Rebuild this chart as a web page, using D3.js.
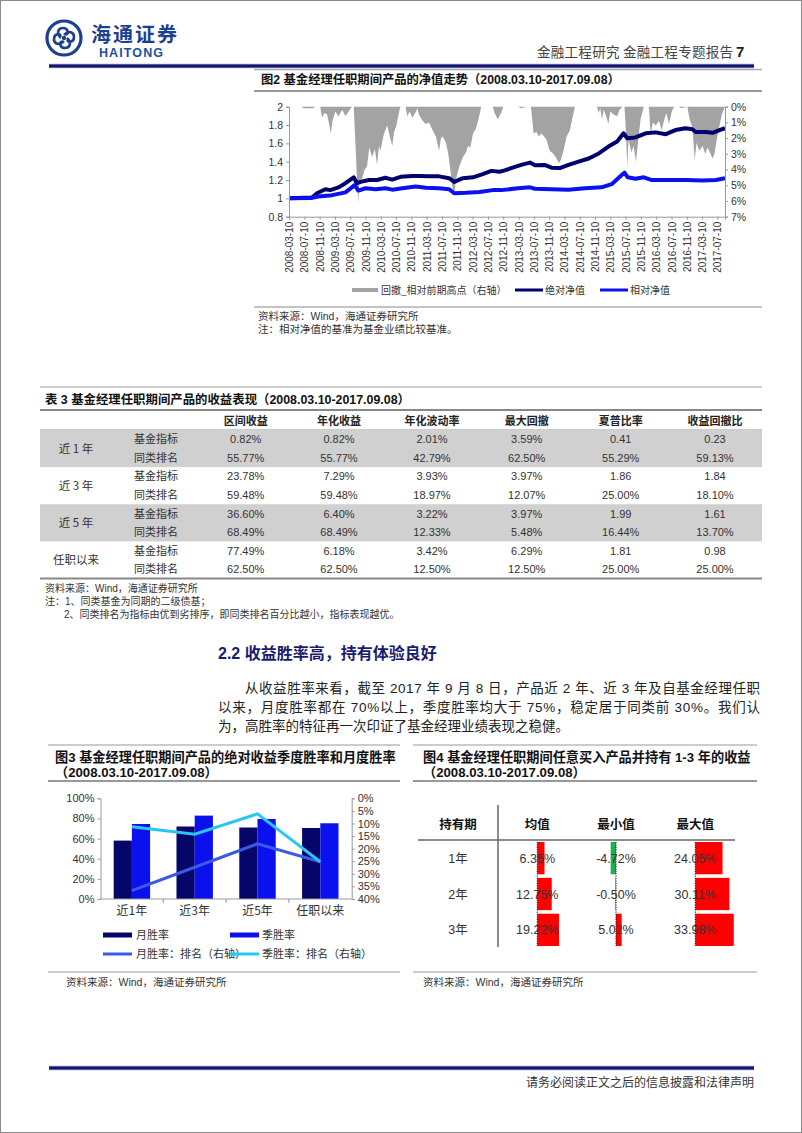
<!DOCTYPE html>
<html><head><meta charset="utf-8">
<script src="https://cdn.jsdelivr.net/npm/d3@7"></script>
<style>body{margin:0;background:#fff} svg{display:block}</style>
</head><body>
<svg id="page" width="802" height="1133"></svg>
<script>
// ---------------- DATA ----------------
const fig2TickLabels = ["2008-03-10","2008-07-10","2008-11-10","2009-03-10","2009-07-10","2009-11-10","2010-03-10","2010-07-10","2010-11-10","2011-03-10","2011-07-10","2011-11-10","2012-03-10","2012-07-10","2012-11-10","2013-03-10","2013-07-10","2013-11-10","2014-03-10","2014-07-10","2014-11-10","2015-03-10","2015-07-10","2015-11-10","2016-03-10","2016-07-10","2016-11-10","2017-03-10","2017-07-10"];
const fig2LeftTicks = [0.8,1,1.2,1.4,1.6,1.8,2];
const fig2RightTicks = [0,1,2,3,4,5,6,7];
// [decimal year, value]
const absNav = [[2008.19,1.00],[2008.69,1.01],[2008.80,1.055],[2008.98,1.10],[2009.09,1.09],[2009.27,1.12],[2009.42,1.165],[2009.60,1.23],[2009.67,1.165],[2009.75,1.18],[2009.93,1.20],[2010.11,1.20],[2010.29,1.225],[2010.44,1.205],[2010.62,1.235],[2010.88,1.245],[2011.02,1.245],[2011.24,1.24],[2011.46,1.24],[2011.68,1.22],[2011.79,1.18],[2011.98,1.22],[2012.20,1.23],[2012.41,1.265],[2012.60,1.30],[2012.78,1.29],[2012.89,1.305],[2013.03,1.33],[2013.25,1.365],[2013.44,1.39],[2013.55,1.36],[2013.76,1.365],[2013.91,1.335],[2014.09,1.33],[2014.28,1.365],[2014.50,1.40],[2014.72,1.435],[2014.94,1.49],[2015.15,1.565],[2015.34,1.62],[2015.48,1.71],[2015.56,1.655],[2015.74,1.665],[2015.96,1.71],[2016.18,1.72],[2016.40,1.70],[2016.61,1.745],[2016.83,1.765],[2016.98,1.755],[2017.05,1.725],[2017.27,1.725],[2017.42,1.715],[2017.57,1.745],[2017.69,1.765]];
const relNav = [[2008.19,1.00],[2008.69,1.005],[2008.83,1.02],[2009.13,1.035],[2009.42,1.065],[2009.56,1.12],[2009.62,1.145],[2009.70,1.085],[2009.86,1.11],[2010.08,1.10],[2010.29,1.11],[2010.44,1.095],[2010.66,1.11],[2010.95,1.13],[2011.17,1.115],[2011.46,1.11],[2011.68,1.10],[2011.79,1.055],[2012.05,1.06],[2012.34,1.07],[2012.63,1.09],[2012.81,1.09],[2013.18,1.11],[2013.44,1.12],[2013.55,1.105],[2013.91,1.10],[2014.28,1.095],[2014.64,1.11],[2015.00,1.12],[2015.22,1.155],[2015.44,1.255],[2015.50,1.28],[2015.57,1.23],[2015.74,1.215],[2015.92,1.23],[2016.10,1.20],[2016.47,1.20],[2016.83,1.20],[2017.20,1.195],[2017.49,1.20],[2017.69,1.22]];
// drawdown in %, [decimal year, %]
const drawdown = [[2008.19,0],[2008.47,0],[2008.50,0.1],[2008.72,0.1],[2008.76,0],[2008.87,0],[2008.91,0.7],[2008.96,0.4],[2009.02,0.5],[2009.07,1.2],[2009.10,1.7],[2009.14,0.9],[2009.20,0.3],[2009.27,0.6],[2009.35,0.2],[2009.42,0.6],[2009.49,0.3],[2009.56,0],[2009.60,0],[2009.64,2.5],[2009.67,4.5],[2009.70,6.1],[2009.72,4.9],[2009.78,4.6],[2009.84,4.0],[2009.89,3.8],[2009.94,2.6],[2010.00,3.2],[2010.06,2.7],[2010.11,3.7],[2010.15,2.5],[2010.18,2.8],[2010.26,1.7],[2010.33,1.2],[2010.38,1.8],[2010.44,2.5],[2010.48,1.6],[2010.53,1.2],[2010.59,0.3],[2010.62,0],[2010.73,0],[2010.77,0.6],[2010.82,0.3],[2010.88,0.7],[2010.94,0.4],[2010.99,0.1],[2011.02,0.5],[2011.10,0.9],[2011.17,1.1],[2011.24,1.0],[2011.32,1.5],[2011.39,1.9],[2011.46,2.8],[2011.50,2.0],[2011.54,1.9],[2011.61,2.3],[2011.66,3.0],[2011.70,3.9],[2011.76,5.3],[2011.79,5.5],[2011.83,4.6],[2011.90,3.8],[2011.98,3.2],[2012.05,2.9],[2012.09,2.5],[2012.14,2.6],[2012.20,1.7],[2012.26,1.4],[2012.31,0.9],[2012.38,0],[2012.63,0],[2012.67,0.4],[2012.74,0.8],[2012.81,0.4],[2012.86,0],[2013.18,0],[2013.25,0.1],[2013.36,0],[2013.46,0],[2013.49,0.8],[2013.52,1.7],[2013.58,1.6],[2013.63,1.9],[2013.69,1.7],[2013.75,1.9],[2013.80,2.1],[2013.87,2.8],[2013.95,3.0],[2014.02,3.3],[2014.07,3.6],[2014.11,3.4],[2014.17,2.8],[2014.24,1.9],[2014.31,1.5],[2014.36,0.8],[2014.42,0],[2014.90,0],[2014.94,0.4],[2014.97,0.1],[2015.01,0.8],[2015.05,0.2],[2015.10,0.6],[2015.15,1.1],[2015.19,0.3],[2015.26,0.5],[2015.34,0.6],[2015.39,0.2],[2015.46,0],[2015.50,0],[2015.53,1.5],[2015.56,3.8],[2015.59,2.1],[2015.65,2.9],[2015.70,2.5],[2015.75,3.5],[2015.80,2.1],[2015.85,0.8],[2015.92,0],[2016.03,0],[2016.07,1.7],[2016.12,1.0],[2016.18,1.2],[2016.25,0.9],[2016.31,1.5],[2016.36,0.9],[2016.41,0.4],[2016.47,1.1],[2016.53,0.3],[2016.58,0],[2016.69,0],[2016.73,0.1],[2016.87,0],[2016.92,0.8],[2016.98,1.3],[2017.03,3.4],[2017.07,2.3],[2017.13,2.8],[2017.20,2.5],[2017.26,3.0],[2017.31,2.6],[2017.36,2.9],[2017.42,3.3],[2017.46,3.0],[2017.51,2.1],[2017.57,1.2],[2017.62,0.5],[2017.69,0]];
const fig2Legend = ["回撤_相对前期高点（右轴）","绝对净值","相对净值"];

const t3Columns = ["区间收益","年化收益","年化波动率","最大回撤","夏普比率","收益回撤比"];
const t3Groups = ["近 1 年","近 3 年","近 5 年","任职以来"];
const t3RowLabels = ["基金指标","同类排名"];
const t3Values = [
  ["0.82%","0.82%","2.01%","3.59%","0.41","0.23"],
  ["55.77%","55.77%","42.79%","62.50%","55.29%","59.13%"],
  ["23.78%","7.29%","3.93%","3.97%","1.86","1.84"],
  ["59.48%","59.48%","18.97%","12.07%","25.00%","18.10%"],
  ["36.60%","6.40%","3.22%","3.97%","1.99","1.61"],
  ["68.49%","68.49%","12.33%","5.48%","16.44%","13.70%"],
  ["77.49%","6.18%","3.42%","6.29%","1.81","0.98"],
  ["62.50%","62.50%","12.50%","12.50%","25.00%","25.00%"]
];

const f3Cats = ["近1年","近3年","近5年","任职以来"];
const monthWin = [58, 72, 71, 70.5];
const quarterWin = [74.5, 82.8, 79.5, 75.2];
const monthRank = [36.7, 27.4, 18.1, 25.2];
const quarterRank = [11.3, 14.3, 6.2, 25.2];
const f3LeftTicks = [0,20,40,60,80,100];
const f3RightTicks = [0,5,10,15,20,25,30,35,40];
const f3Legend = ["月胜率","季胜率","月胜率：排名（右轴）","季胜率：排名（右轴）"];

const f4Headers = ["持有期","均值","最小值","最大值"];
const f4Periods = ["1年","2年","3年"];
const f4Mean = [6.35, 12.75, 19.22];
const f4Min = [-4.72, -0.50, 5.02];
const f4Max = [24.05, 30.11, 33.98];

// ---------------- DRAW ----------------
const svg = d3.select("#page");
const CJK = "'Noto Sans CJK SC','Noto Sans',sans-serif";
const MIX = "'Liberation Sans','Noto Sans CJK SC',sans-serif";
function T(g,x,y,s,o={}){
  const e = g.append("text").attr("x",x).attr("y",y).text(s)
    .attr("font-family",o.f||MIX).attr("font-size",o.s||12)
    .attr("fill",o.c||"#333").attr("font-weight",o.w||"normal")
    .attr("text-anchor",o.a||"start");
  if(o.len){e.attr("textLength",o.len).attr("lengthAdjust","spacing");}
  return e;
}
function L(g,x1,y1,x2,y2,c,w){
  return g.append("line").attr("x1",x1).attr("y1",y1).attr("x2",x2).attr("y2",y2)
    .attr("stroke",c||"#888").attr("stroke-width",w||1);
}

svg.append("rect").attr("x",0.5).attr("y",0.5).attr("width",801).attr("height",1132)
  .attr("fill","#fff").attr("stroke","#8a8a8a");

// Header logo
const logo = svg.append("g").attr("transform","translate(64,38)");
logo.append("circle").attr("r",17).attr("fill","none").attr("stroke","#1d3f91").attr("stroke-width",3.2);
[0,90,180,270].forEach(a=>{
  logo.append("path").attr("transform",`rotate(${a})`)
    .attr("d","M0,-3 C5,-8 10,-6 10,-1 C10,4 5,5 3,2")
    .attr("fill","none").attr("stroke","#1d3f91").attr("stroke-width",2.6);
});
logo.append("circle").attr("r",2.2).attr("fill","#1d3f91");
T(svg,91,42,"海通证券",{s:20,w:700,c:"#1d3f91",f:CJK,len:86});
T(svg,99,57,"HAITONG",{s:12.5,w:700,c:"#1d4fa0",len:64});
T(svg,733,57,"金融工程研究 金融工程专题报告",{s:13.5,a:"end",f:CJK,c:"#444",len:196});
T(svg,736,57,"7",{s:15,w:700,c:"#222"});
L(svg,49,66,754,66,"#9aa0d8",4.5);
L(svg,49,66,754,66,"#15156a",3);

// ---------- Figure 2 ----------
const f2 = svg.append("g");
L(f2,254,69.5,762,69.5,"#aaa",1.5);
T(f2,261,84,"图2  基金经理任职期间产品的净值走势（2008.03.10-2017.09.08）",{s:12.3,w:700,c:"#111"});
L(f2,254,91,762,91,"#333",1);

const decYear = s => { const [y,m,d]=s.split("-").map(Number); return y+(m-1)/12+(d-1)/365; };
const x2 = d3.scaleLinear().domain([2008.19,2017.69]).range([289,725]);
const yL = d3.scaleLinear().domain([0.8,2]).range([216.7,106.7]);
const yR = d3.scaleLinear().domain([0,7]).range([106.7,216.7]);

f2.append("path").datum(drawdown)
  .attr("d",d3.area().x(d=>x2(d[0])).y0(yR(0)).y1(d=>yR(d[1])))
  .attr("fill","#a3a3a3");
f2.append("path").datum(absNav)
  .attr("d",d3.line().x(d=>x2(d[0])).y(d=>yL(d[1])))
  .attr("fill","none").attr("stroke","#00006e").attr("stroke-width",4).attr("stroke-linejoin","round");
f2.append("path").datum(relNav)
  .attr("d",d3.line().x(d=>x2(d[0])).y(d=>yL(d[1])))
  .attr("fill","none").attr("stroke","#0a10ee").attr("stroke-width",4).attr("stroke-linejoin","round");

const axL = f2.append("g").attr("transform","translate(289,0)")
  .call(d3.axisLeft(yL).tickValues(fig2LeftTicks).tickSize(3).tickFormat(d=>d));
const axR = f2.append("g").attr("transform","translate(725,0)")
  .call(d3.axisRight(yR).tickValues(fig2RightTicks).tickSize(3).tickFormat(d=>d+"%"));
const axB = f2.append("g").attr("transform","translate(0,216.7)")
  .call(d3.axisBottom(x2).tickValues(fig2TickLabels.map(decYear)).tickSize(3).tickFormat((d,i)=>fig2TickLabels[i]));
[axL,axR,axB].forEach(a=>{
  a.select(".domain").attr("stroke","#999");
  a.selectAll(".tick line").attr("stroke","#999");
  a.selectAll("text").attr("font-family",MIX).attr("font-size",10.5).attr("fill","#333");
});
axB.selectAll("text").attr("font-size",10).attr("transform","rotate(-90)")
  .attr("text-anchor","end").attr("x",-5).attr("y",0).attr("dy","0.35em");

// legend
f2.append("rect").attr("x",352).attr("y",288).attr("width",26).attr("height",4).attr("fill","#a3a3a3");
T(f2,381,294,fig2Legend[0],{s:10,f:CJK,c:"#333"});
L(f2,515,290,543,290,"#00006e",3);
T(f2,545,294,fig2Legend[1],{s:10,f:CJK,c:"#333"});
L(f2,600,290,628,290,"#0a10ee",3);
T(f2,630,294,fig2Legend[2],{s:10,f:CJK,c:"#333"});
L(f2,254,307,762,307,"#888",1);
T(f2,258,320,"资料来源：Wind，海通证券研究所",{s:10.5,c:"#333"});
T(f2,258,333,"注：相对净值的基准为基金业绩比较基准。",{s:10.5,c:"#333"});

// ---------- Table 3 ----------
const tb = svg.append("g");
L(tb,40,387,762,387,"#999",1);
T(tb,45,404,"表 3  基金经理任职期间产品的收益表现（2008.03.10-2017.09.08）",{s:12.4,w:700,c:"#111"});
L(tb,40,410,762,410,"#888",2);
const colX = [245.7,339,432,526.7,620.7,715];
t3Columns.forEach((c,i)=>T(tb,colX[i],425,c,{s:11,w:700,a:"middle",f:CJK,c:"#222"}));
L(tb,40,430,762,430,"#999",1);
const rowY = d3.scaleBand().domain(d3.range(8)).range([430,578.5]);
[0,2].forEach(gi=>{
  tb.append("rect").attr("x",40).attr("y",rowY(gi*2)).attr("width",722)
    .attr("height",rowY.bandwidth()*2).attr("fill","#d0d0d0");
});
t3Groups.forEach((g,gi)=>{
  T(tb,76,rowY(gi*2)+rowY.bandwidth()+4.5,g,{s:11.5,a:"middle",f:CJK,c:"#333"});
});
t3Values.forEach((row,ri)=>{
  const cy = rowY(ri)+rowY.bandwidth()/2+4;
  T(tb,156,cy,t3RowLabels[ri%2],{s:11,a:"middle",f:CJK,c:"#333"});
  row.forEach((v,ci)=>T(tb,colX[ci],cy,v,{s:11,a:"middle",c:"#333"}));
});
L(tb,40,578.5,762,578.5,"#888",2);
T(tb,45,592,"资料来源：Wind，海通证券研究所",{s:10,c:"#333"});
T(tb,45,605,"注：1、同类基金为同期的二级债基；",{s:10,c:"#333"});
T(tb,64,618,"2、同类排名为指标由优到劣排序，即同类排名百分比越小，指标表现越优。",{s:10,c:"#333"});

// ---------- Section text ----------
T(svg,218,659,"2.2 收益胜率高，持有体验良好",{s:16,w:700,c:"#1b1b6e"});
T(svg,245,693,"从收益胜率来看，截至 2017 年 9 月 8 日，产品近 2 年、近 3 年及自基金经理任职",{s:13.5,c:"#222",len:515});
T(svg,218,712,"以来，月度胜率都在 70%以上，季度胜率均大于 75%，稳定居于同类前 30%。我们认",{s:13.5,c:"#222",len:542});
T(svg,218,731,"为，高胜率的特征再一次印证了基金经理业绩表现之稳健。",{s:13.5,c:"#222"});

// ---------- Figure 3 ----------
const f3 = svg.append("g");
L(f3,48,745,400,745,"#999",1);
T(f3,55,762,"图3  基金经理任职期间产品的绝对收益季度胜率和月度胜率",{s:13.2,w:700,c:"#111"});
T(f3,55,777,"（2008.03.10-2017.09.08）",{s:13.2,w:700,c:"#111"});
L(f3,48,781,400,781,"#333",1.2);

const x3 = d3.scaleBand().domain(f3Cats).range([100.5,351.7]).paddingInner(0.42).paddingOuter(0.21);
const x3s = d3.scaleBand().domain(["m","q"]).range([0,x3.bandwidth()]);
const y3L = d3.scaleLinear().domain([0,100]).range([899,798.3]);
const y3R = d3.scaleLinear().domain([0,40]).range([798.3,899]);
f3Cats.forEach((c,i)=>{
  f3.append("rect").attr("x",x3(c)+x3s("m")).attr("y",y3L(monthWin[i]))
    .attr("width",x3s.bandwidth()).attr("height",y3L(0)-y3L(monthWin[i])).attr("fill","#05056a");
  f3.append("rect").attr("x",x3(c)+x3s("q")).attr("y",y3L(quarterWin[i]))
    .attr("width",x3s.bandwidth()).attr("height",y3L(0)-y3L(quarterWin[i])).attr("fill","#0a10ee");
});
const cx3 = c => x3(c)+x3.bandwidth()/2;
f3.append("path").datum(monthRank)
  .attr("d",d3.line().x((d,i)=>cx3(f3Cats[i])).y(d=>y3R(d)))
  .attr("fill","none").attr("stroke","#3a5ae6").attr("stroke-width",3);
f3.append("path").datum(quarterRank)
  .attr("d",d3.line().x((d,i)=>cx3(f3Cats[i])).y(d=>y3R(d)))
  .attr("fill","none").attr("stroke","#28c8f0").attr("stroke-width",3);

const a3L = f3.append("g").attr("transform","translate(100.5,0)")
  .call(d3.axisLeft(y3L).tickValues(f3LeftTicks).tickSize(3).tickFormat(d=>d+"%"));
const a3R = f3.append("g").attr("transform","translate(351.7,0)")
  .call(d3.axisRight(y3R).tickValues(f3RightTicks).tickSize(3).tickFormat(d=>d+"%"));
[a3L,a3R].forEach(a=>{
  a.select(".domain").attr("stroke","#999");
  a.selectAll(".tick line").attr("stroke","#999");
  a.selectAll("text").attr("font-family",MIX).attr("font-size",11).attr("fill","#333");
});
L(f3,100.5,899,351.7,899,"#999",1);
f3Cats.forEach((c,i)=>{
  const bx = x3(c)-x3.step()*x3.paddingInner()/2;
  if(i>0) L(f3,bx,899,bx,903,"#999",1);
  T(f3,cx3(c),915,c,{s:12,a:"middle",f:CJK,c:"#333"});
});
f3.append("rect").attr("x",103).attr("y",932.5).attr("width",29).attr("height",5).attr("fill","#05056a");
T(f3,136,939,f3Legend[0],{s:11,f:CJK,c:"#333"});
f3.append("rect").attr("x",230).attr("y",932.5).attr("width",29).attr("height",5).attr("fill","#0a10ee");
T(f3,262,939,f3Legend[1],{s:11,f:CJK,c:"#333"});
L(f3,103,954,132,954,"#3a5ae6",3);
T(f3,136,958,f3Legend[2],{s:11,f:CJK,c:"#333"});
L(f3,230,954,259,954,"#28c8f0",3);
T(f3,262,958,f3Legend[3],{s:11,f:CJK,c:"#333"});
L(f3,48,972,400,972,"#999",1);
T(f3,66,986,"资料来源：Wind，海通证券研究所",{s:10.5,c:"#333"});

// ---------- Figure 4 ----------
const f4 = svg.append("g");
L(f4,413,745,757,745,"#999",1);
T(f4,423,762,"图4  基金经理任职期间任意买入产品并持有 1-3 年的收益",{s:13.2,w:700,c:"#111"});
T(f4,423,777,"（2008.03.10-2017.09.08）",{s:13.2,w:700,c:"#111"});
L(f4,413,781,757,781,"#333",1.2);

const colC = [458,537.3,616,695.3];
f4Headers.forEach((h,i)=>T(f4,colC[i],829,h,{s:12.5,w:700,a:"middle",f:CJK,c:"#111"}));
L(f4,498,805,498,947,"#666",1.5);
L(f4,418,840,735,840,"#666",1.5);
const y4 = d3.scaleBand().domain(f4Periods).range([842,946]).paddingInner(0.1);
const w4 = d3.scaleLinear().domain([0,34]).range([0,38.5]);
const cols4 = [[f4Mean,colC[1]],[f4Min,colC[2]],[f4Max,colC[3]]];
cols4.forEach(([vals,bx])=>{
  vals.forEach((v,i)=>{
    const p = f4Periods[i];
    f4.append("rect").attr("x",v>=0?bx:bx-w4(-v)).attr("y",y4(p))
      .attr("width",w4(Math.abs(v))).attr("height",y4.bandwidth())
      .attr("fill",v>=0?"#ff0000":"#1fb050");
  });
  L(f4,bx,842,bx,946,"#111",1).attr("stroke-dasharray","1.2,1.2");
  vals.forEach((v,i)=>{
    const p = f4Periods[i];
    T(f4,bx,y4(p)+y4.bandwidth()/2+4.5,v.toFixed(2)+"%",{s:12.5,a:"middle",c:"#333"});
  });
});
f4Periods.forEach(p=>T(f4,colC[0],y4(p)+y4.bandwidth()/2+4.5,p,{s:12.5,a:"middle",c:"#333"}));
L(f4,413,972,757,972,"#999",1);
T(f4,423,986,"资料来源：Wind，海通证券研究所",{s:10.5,c:"#333"});

// ---------- Footer ----------
L(svg,49,1068,754,1068,"#9aa0d8",4.5);
L(svg,49,1068,754,1068,"#15156a",3);
T(svg,754,1087,"请务必阅读正文之后的信息披露和法律声明",{s:12,a:"end",f:CJK,c:"#333"});
</script></body></html>
